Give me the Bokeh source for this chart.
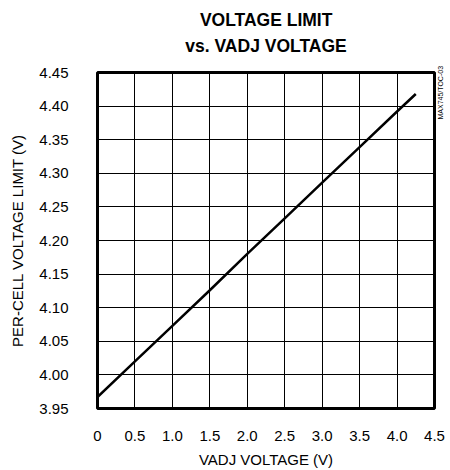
import math
from bokeh.plotting import figure
from bokeh.models import Title, FixedTicker, LinearAxis
from bokeh.embed import file_html
from bokeh.resources import INLINE

# data
vadj_v = [0.0, 0.5, 1.0, 1.5, 2.0, 2.5, 3.0, 3.5, 4.0, 4.25]
limit_v = [3.967, 4.020, 4.073, 4.126, 4.180, 4.233, 4.286, 4.339, 4.392, 4.418]
x_ticks = [0, 0.5, 1.0, 1.5, 2.0, 2.5, 3.0, 3.5, 4.0, 4.5]
x_tick_labels = ["0", "0.5", "1.0", "1.5", "2.0", "2.5", "3.0", "3.5", "4.0", "4.5"]
y_ticks = [3.95, 4.00, 4.05, 4.10, 4.15, 4.20, 4.25, 4.30, 4.35, 4.40, 4.45]
y_tick_labels = ["3.95", "4.00", "4.05", "4.10", "4.15", "4.20", "4.25", "4.30", "4.35", "4.40", "4.45"]
title_lines = ["VOLTAGE LIMIT", "vs. VADJ VOLTAGE"]
watermark = "MAX745/TOC-03"
watermark_at = 4.38

FONT = "Liberation Sans"

p = figure(width=450, height=470, x_range=(0, 4.5), y_range=(3.95, 4.45),
           output_backend="svg", toolbar_location=None,
           min_border_left=97, min_border_right=16, min_border_top=72, min_border_bottom=62)

p.line(vadj_v, limit_v, line_color="black", line_width=2.5)

# blank spacer between the title and the plot frame
spacer = Title(text=" ", text_font_size="1px", standoff=6)
p.add_layout(spacer, "above")
# the shorter first line is padded with no-break spaces so that both lines are centred
title_text = "\u00a0\u00a0\u00a0" + title_lines[0] + "\n" + title_lines[1]
t = Title(text=title_text, align="center", text_font=FONT, text_font_size="17.5px",
          text_font_style="bold", text_color="black", standoff=14, text_line_height=1.31)
p.add_layout(t, "above")

p.outline_line_color = "black"
p.outline_line_width = 3
p.background_fill_color = "white"
p.border_fill_color = "white"

p.xaxis.ticker = FixedTicker(ticks=x_ticks)
p.yaxis.ticker = FixedTicker(ticks=y_ticks)
p.xaxis.major_label_overrides = {t: l for t, l in zip(x_ticks, x_tick_labels)}
p.yaxis.major_label_overrides = {t: l for t, l in zip(y_ticks, y_tick_labels)}

for ax in (p.xaxis, p.yaxis):
    ax.axis_line_color = None
    ax.major_tick_line_color = None
    ax.minor_tick_line_color = None
    ax.major_tick_out = 0
    ax.major_tick_in = 0
    ax.major_label_text_font = FONT
    ax.major_label_text_font_size = "15px"
    ax.major_label_text_color = "black"
    ax.axis_label_text_font = FONT
    ax.axis_label_text_font_size = "15px"
    ax.axis_label_text_font_style = "normal"
    ax.axis_label_text_color = "black"

p.xaxis.axis_label = "VADJ VOLTAGE (V)"
p.yaxis.axis_label = "PER-CELL VOLTAGE LIMIT (V)"
p.xaxis.major_label_standoff = 22
p.xaxis.axis_label_standoff = 7
p.yaxis.major_label_standoff = 29
p.yaxis.axis_label_standoff = 10

p.grid.grid_line_color = "black"
p.grid.grid_line_width = 1
p.grid.grid_line_alpha = 1

# small rotated figure code on the right, drawn as a tick label of a bare right axis
wm_axis = LinearAxis(ticker=FixedTicker(ticks=[watermark_at]),
                     major_label_overrides={watermark_at: watermark},
                     major_label_orientation=math.pi / 2,
                     major_label_text_font=FONT, major_label_text_font_size="7px",
                     major_label_text_color="black", major_label_standoff=6,
                     axis_line_color=None, major_tick_line_color=None,
                     minor_tick_line_color=None, major_tick_out=0, major_tick_in=0)
p.add_layout(wm_axis, "right")

open("out.html", "w").write(file_html(p, INLINE))
